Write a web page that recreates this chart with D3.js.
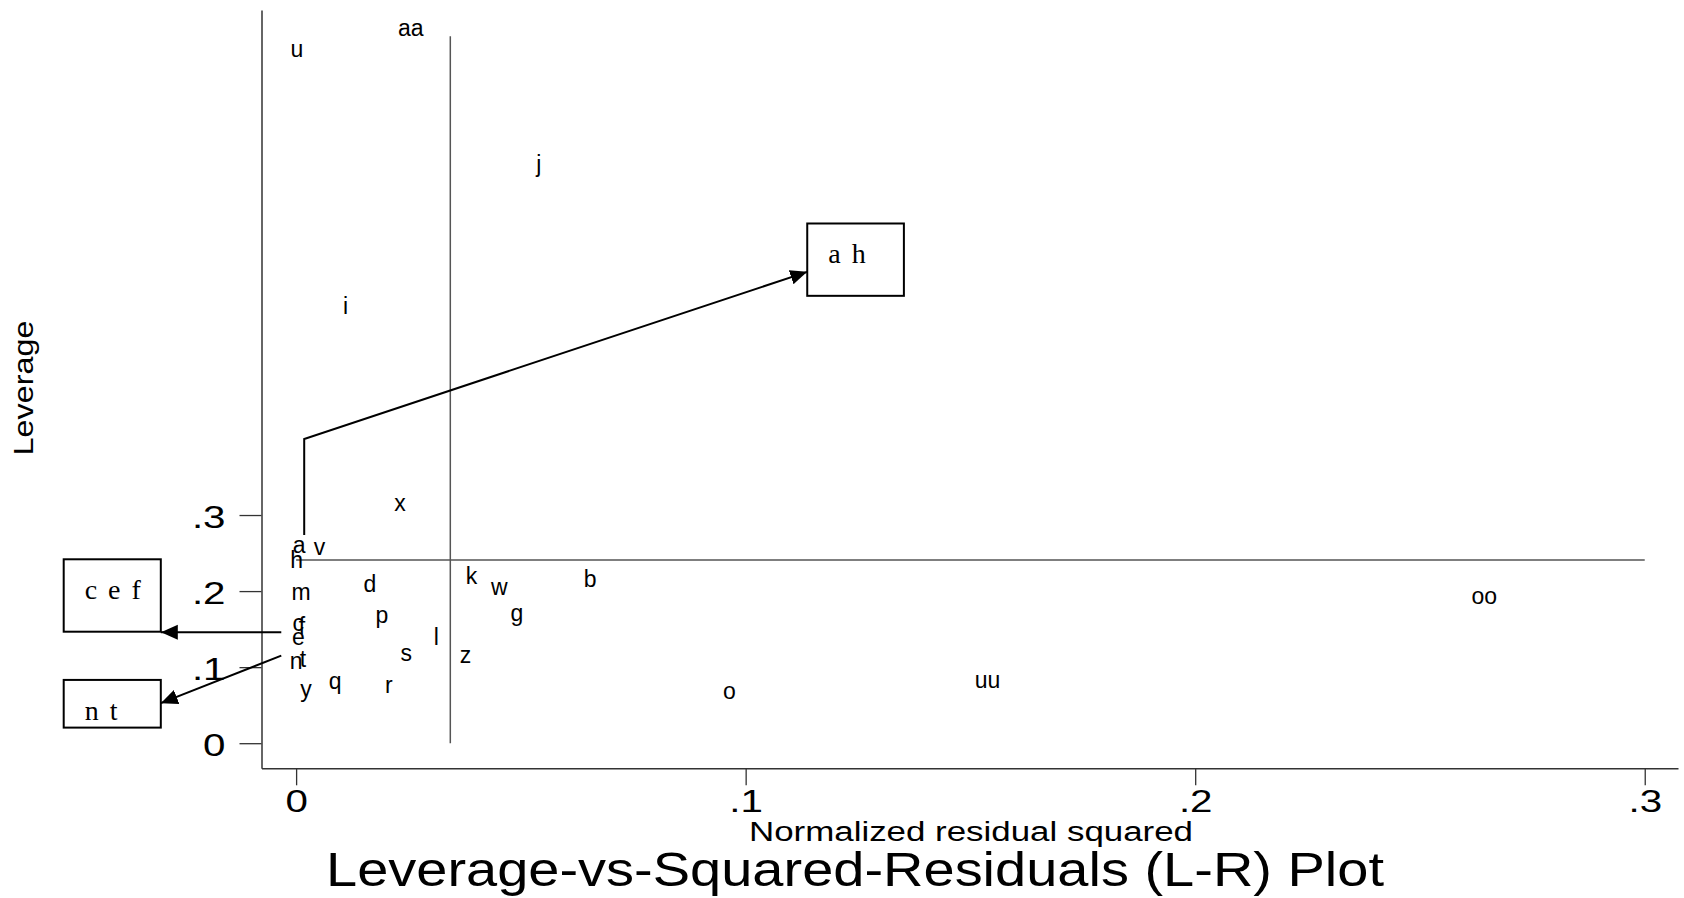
<!DOCTYPE html>
<html lang="en">
<head>
<meta charset="utf-8">
<script src="https://d3js.org/d3.v7.min.js"></script>
<style>
  body { margin: 0; background: #fff; }
  text { font-family: "Liberation Sans", Arial, sans-serif; fill: #000; }
  .serif { font-family: "Liberation Serif", "Times New Roman", serif; }
</style>
</head>
<body>
<script>
    // observation labels with their normalized residual squared and leverage
    const labels = ["u", "aa", "j", "i", "x", "a", "v", "h", "m", "d", "k", "w", "b", "g", "p",
                    "c", "f", "e", "l", "s", "z", "n", "t", "q", "y", "r", "o", "uu", "oo"];
    const residSq = [0.0002, 0.0255, 0.0540, 0.0110, 0.0231, 0.0007, 0.0052, 0.0001, 0.0011, 0.0164,
                     0.0390, 0.0452, 0.0654, 0.0491, 0.0191, 0.0005, 0.0013, 0.0005, 0.0312, 0.0245,
                     0.0377, 0.0000, 0.0015, 0.0087, 0.0022, 0.0206, 0.0964, 0.1538, 0.2643];
    const leverage = [0.9101, 0.9373, 0.7590, 0.5724, 0.3132, 0.2583, 0.2549, 0.2387, 0.1962, 0.2067,
                      0.2168, 0.2028, 0.2136, 0.1686, 0.1664, 0.1555, 0.1511, 0.1366, 0.1370, 0.1154,
                      0.1138, 0.1059, 0.1085, 0.0796, 0.0691, 0.0736, 0.0657, 0.0802, 0.1905];

    // mean lines
    const meanResidSq = 0.0343;
    const meanLeverage = 0.2409;
    const leverageTop = 0.9294;

    const xTicks = [0, 0.1, 0.2, 0.3];
    const yTicks = [0, 0.1, 0.2, 0.3];

    // annotation boxes (data units): text, x0, x1, y0 (top), y1 (bottom)
    const boxText = ["a h", "c e f", "n t"];
    const boxX = [[0.1137, 0.1352], [-0.0517, -0.0301], [-0.0517, -0.0301]];
    const boxY = [[0.6833, 0.5882], [0.2418, 0.1466], [0.0832, 0.0205]];

    // arrows pointing at the boxes (polylines in data units)
    const arrows = [
        [[0.0018, 0.2737], [0.0018, 0.3999], [0.1137, 0.6197]],
        [[-0.0033, 0.1459], [-0.0301, 0.1459]],
        [[-0.0033, 0.1151], [-0.0301, 0.0526]]
    ];

    const W = 1684, H = 898;

    const svg = d3.select("body").append("svg")
        .attr("width", W)
        .attr("height", H);

    svg.append("rect").attr("width", W).attr("height", H).attr("fill", "#fff");

    // scales span the plot frame, a bit wider than the data range
    const x = d3.scaleLinear().domain([-0.0077, 0.3074]).range([261.5, 1678]);
    const y = d3.scaleLinear().domain([-0.033, 0.964]).range([768.3, 10]);

    // stretch text horizontally to look like the original export
    function widen(sel, k) {
        sel.each(function() {
            const w = this.getComputedTextLength();
            d3.select(this).attr("textLength", w * k).attr("lengthAdjust", "spacingAndGlyphs");
        });
    }
    function fitTo(sel, len) {
        sel.attr("textLength", len).attr("lengthAdjust", "spacingAndGlyphs");
    }

    const fmt = d => d === 0 ? "0" : String(d).replace("0.", ".");

    // Y axis
    const yAxis = svg.append("g")
        .attr("transform", "translate(" + x.range()[0] + ",0)")
        .call(d3.axisLeft(y).tickValues(yTicks).tickSize(22).tickSizeOuter(0).tickFormat(fmt));
    yAxis.select(".domain").attr("stroke", "#333").attr("stroke-width", 1.5);
    yAxis.selectAll(".tick line").attr("stroke", "#333").attr("stroke-width", 1.3);
    yAxis.selectAll(".tick text")
        .attr("x", -36)
        .attr("dy", 12.5)
        .attr("font-size", 31)
        .attr("fill", "#000")
        .call(widen, 1.3);

    // X axis
    const xAxis = svg.append("g")
        .attr("transform", "translate(0," + y.range()[0] + ")")
        .call(d3.axisBottom(x).tickValues(xTicks).tickSize(17).tickSizeOuter(0).tickFormat(fmt));
    xAxis.select(".domain").attr("stroke", "#333").attr("stroke-width", 1.5);
    xAxis.selectAll(".tick line").attr("stroke", "#333").attr("stroke-width", 1.3);
    xAxis.selectAll(".tick text")
        .attr("y", 44)
        .attr("dy", 0)
        .attr("font-size", 31)
        .attr("fill", "#000")
        .call(widen, 1.3);

    // reference lines at the means
    svg.append("line")
        .attr("x1", x(meanResidSq)).attr("x2", x(meanResidSq))
        .attr("y1", y(0)).attr("y2", y(leverageTop))
        .attr("stroke", "#555").attr("stroke-width", 1.5);
    svg.append("line")
        .attr("x1", x(0)).attr("x2", x(xTicks[xTicks.length - 1]))
        .attr("y1", y(meanLeverage)).attr("y2", y(meanLeverage))
        .attr("stroke", "#555").attr("stroke-width", 1.5);

    // point labels centred on the observations
    svg.append("g").selectAll("text")
        .data(labels)
        .join("text")
        .attr("x", (d, i) => x(residSq[i]))
        .attr("y", (d, i) => y(leverage[i]))
        .attr("dy", "0.26em")
        .attr("text-anchor", "middle")
        .attr("font-size", 23)
        .text(d => d);

    // arrow head
    svg.append("defs").append("marker")
        .attr("id", "head")
        .attr("viewBox", "0 -8 17 16")
        .attr("refX", 17).attr("refY", 0)
        .attr("markerWidth", 17).attr("markerHeight", 16)
        .attr("markerUnits", "userSpaceOnUse")
        .attr("orient", "auto")
        .append("path")
        .attr("d", "M0,-7.5L17,0L0,7.5Z")
        .attr("fill", "#000");

    const line = d3.line().x(d => x(d[0])).y(d => y(d[1]));
    svg.append("g").selectAll("path")
        .data(arrows)
        .join("path")
        .attr("d", line)
        .attr("fill", "none")
        .attr("stroke", "#000")
        .attr("stroke-width", 2)
        .attr("marker-end", "url(#head)");

    // boxes with the listed observations
    const boxes = svg.append("g").selectAll("g")
        .data(boxText)
        .join("g");
    boxes.append("rect")
        .attr("x", (d, i) => x(boxX[i][0]))
        .attr("y", (d, i) => y(boxY[i][0]))
        .attr("width", (d, i) => x(boxX[i][1]) - x(boxX[i][0]))
        .attr("height", (d, i) => y(boxY[i][1]) - y(boxY[i][0]))
        .attr("fill", "#fff")
        .attr("stroke", "#000")
        .attr("stroke-width", 2);
    boxes.append("text")
        .attr("class", "serif")
        .attr("x", (d, i) => x(boxX[i][0]) + 21)
        .attr("y", (d, i) => y(boxY[i][0]) + 40)
        .attr("font-size", 28)
        .attr("letter-spacing", 2)
        .text(d => d);

    // axis titles
    svg.append("text")
        .attr("transform", "translate(33,388) rotate(-90)")
        .attr("text-anchor", "middle")
        .attr("font-size", 27)
        .text("Leverage")
        .call(fitTo, 135);

    svg.append("text")
        .attr("x", 971).attr("y", 841)
        .attr("text-anchor", "middle")
        .attr("font-size", 27)
        .text("Normalized residual squared")
        .call(fitTo, 444);

    svg.append("text")
        .attr("x", 855).attr("y", 886)
        .attr("text-anchor", "middle")
        .attr("font-size", 48)
        .text("Leverage-vs-Squared-Residuals (L-R) Plot")
        .call(fitTo, 1058);
</script>
</body>
</html>
